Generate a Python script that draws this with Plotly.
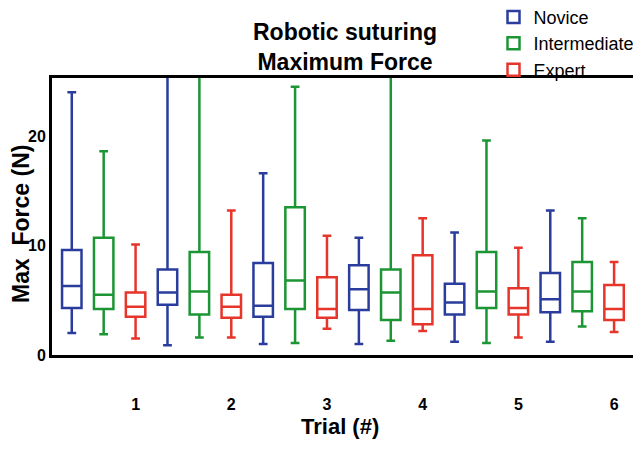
import plotly.graph_objects as go

trials = ["1", "2", "3", "4", "5", "6"]
groups = ["Novice", "Intermediate", "Expert"]
colors = {"Novice": "#2a3d9c", "Intermediate": "#1c9535", "Expert": "#e6352b"}

# per trial: [low whisker, Q1, median, Q3, high whisker]
novice_low = [2.0, 0.9, 1.0, 1.0, 1.2, 1.2]
novice_q1 = [4.3, 4.6, 3.5, 4.1, 3.7, 3.9]
novice_med = [6.3, 5.7, 4.5, 6.0, 4.8, 5.1]
novice_q3 = [9.6, 7.8, 8.4, 8.2, 6.5, 7.5]
novice_high = [24.0, 30.0, 16.6, 10.7, 11.2, 13.2]

inter_low = [1.9, 1.6, 1.1, 1.3, 1.1, 2.6]
inter_q1 = [4.2, 3.7, 4.2, 3.2, 4.3, 4.0]
inter_med = [5.5, 5.8, 6.8, 5.7, 5.8, 5.8]
inter_q3 = [10.7, 9.4, 13.5, 7.8, 9.4, 8.5]
inter_high = [18.6, 30.0, 24.5, 30.0, 19.6, 12.5]

expert_low = [1.5, 1.6, 2.4, 2.2, 1.6, 2.1]
expert_q1 = [3.5, 3.4, 3.4, 2.8, 3.7, 3.2]
expert_med = [4.4, 4.4, 4.2, 4.2, 4.3, 4.2]
expert_q3 = [5.7, 5.5, 7.1, 9.1, 6.1, 6.4]
expert_high = [10.1, 13.2, 10.9, 12.5, 9.8, 8.5]

series = {
    "Novice": (novice_low, novice_q1, novice_med, novice_q3, novice_high),
    "Intermediate": (inter_low, inter_q1, inter_med, inter_q3, inter_high),
    "Expert": (expert_low, expert_q1, expert_med, expert_q3, expert_high),
}

ng = len(groups)
fig = go.Figure()
for gi, g in enumerate(groups):
    lo, q1, med, q3, hi = series[g]
    xs = [ng * k + gi + 1 for k in range(len(trials))]
    fig.add_trace(go.Box(
        name=g, x=xs, lowerfence=lo, q1=q1, median=med, q3=q3, upperfence=hi,
        line=dict(color=colors[g], width=2.5), fillcolor="white",
        width=0.61, whiskerwidth=0.45, boxpoints=False, showlegend=True,
    ))

tickvals = [ng * k + ng for k in range(len(trials))]

# page body has an 8px margin; lay the figure out in shifted coordinates
OFF = 8
W, H = 641 - OFF, 454 - OFF
PL, PR, PT, PB = 52 - OFF, 638 - OFF, 78 - OFF, 355 - OFF
PW, PH = PR - PL, PB - PT

fig.update_layout(
    width=W, height=H,
    margin=dict(l=PL, r=W - PR, t=PT, b=H - PB, autoexpand=False),
    paper_bgcolor="white", plot_bgcolor="white",
    font=dict(family="Liberation Sans, Arial, sans-serif", color="black"),
    title=dict(text="<b>Robotic suturing<br>Maximum Force</b>", x=(345 - OFF) / W, xref="container",
               xanchor="center", y=1 - 32 / H, yanchor="top", yref="container",
               font=dict(size=23, color="black")),
    showlegend=True,
    legend=dict(x=(506 - OFF - 12.5 - PL) / PW, y=1 + (PT + 9.3) / PH, xanchor="left", yanchor="top",
                font=dict(size=18), bgcolor="rgba(0,0,0,0)", tracegroupgap=0),
    xaxis=dict(range=[0.38, 18.75], tickvals=tickvals, ticktext=["<b>%s</b>" % t for t in trials],
               ticks="outside", ticklen=33, tickcolor="rgba(0,0,0,0)",
               tickfont=dict(size=16, color="black"),
               showgrid=False, zeroline=False, showline=True, linecolor="black", linewidth=3,
               mirror=True),
    yaxis=dict(range=[0, 25.3], tickvals=[0, 10, 20], ticktext=["<b>0</b>", "<b>10</b>", "<b>20</b>"],
               ticks="", tickfont=dict(size=16, color="black"),
               showgrid=False, zeroline=False, showline=True, linecolor="black", linewidth=3,
               mirror=True),
    annotations=[
        dict(text="<b>Max\u00a0 Force (N)</b>", textangle=-90, xref="paper", yref="paper",
             x=(21 - OFF - PL) / PW, y=(PB - (224 - OFF)) / PH, xanchor="center", yanchor="middle",
             showarrow=False, font=dict(size=23, color="black")),
        dict(text="<b>Trial (#)</b>", xref="paper", yref="paper",
             x=(340 - OFF - PL) / PW, y=-(426 - 355) / PH, xanchor="center", yanchor="middle",
             showarrow=False, font=dict(size=22, color="black")),
    ],
)

fig.write_html("out.html")
